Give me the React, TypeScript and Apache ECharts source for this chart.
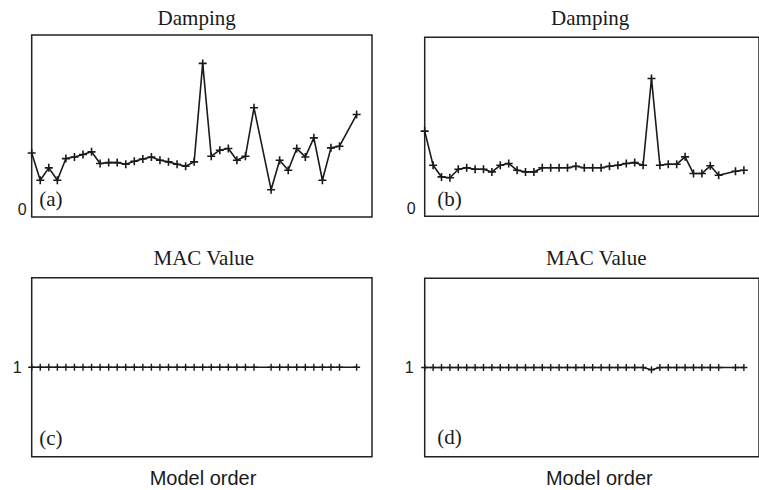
import React, { useEffect, useRef } from "react";
import * as echarts from "echarts";

// Model orders (x positions)
const modelOrders = [1, 2, 3, 4, 5, 6, 7, 8, 9, 10, 11, 12, 13, 14, 15, 16, 17, 18, 19, 20,
  21, 22, 23, 24, 25, 26, 27, 28, 29, 30, 31, 32, 33, 34, 35, 36, 37, 38, 39];

// Damping (a)
const dampingA: (number | null)[] = [3.52, 2.02, 2.7, 2.02, 3.21, 3.3, 3.43, 3.58, 2.94, 2.99,
  2.99, 2.9, 3.06, 3.19, 3.3, 3.12, 3.03, 2.9, 2.79, 3.03,
  8.44, 3.34, 3.67, 3.76, 3.12, 3.34, 6.0, null, 1.5, 3.12,
  2.57, 3.76, 3.3, 4.35, 2.02, 3.8, 3.89, null, 5.63];

// Damping (b)
const dampingB: (number | null)[] = [4.76, 2.85, 2.2, 2.15, 2.63, 2.71, 2.63, 2.63, 2.48, 2.85,
  2.95, 2.57, 2.48, 2.48, 2.71, 2.71, 2.71, 2.71, 2.8, 2.71,
  2.71, 2.71, 2.8, 2.85, 2.95, 3.0, 2.85, 7.7, 2.85, 2.91,
  2.91, 3.32, 2.39, 2.39, 2.82, 2.29, null, 2.52, 2.57];

// MAC value (c)
const macC: (number | null)[] = [1, 1, 1, 1, 1, 1, 1, 1, 1, 1,
  1, 1, 1, 1, 1, 1, 1, 1, 1, 1,
  1, 1, 1, 1, 1, 1, 1, null, 1, 1,
  1, 1, 1, 1, 1, 1, 1, null, 1];

// MAC value (d)
const macD: (number | null)[] = [1, 1, 1, 1, 1, 1, 1, 1, 1, 1,
  1, 1, 1, 1, 1, 1, 1, 1, 1, 1,
  1, 1, 1, 1, 1, 1, 1, 0.975, 1, 1,
  1, 1, 1, 1, 1, 1, null, 1, 1];

const panelTitles = ["Damping", "Damping", "MAC Value", "MAC Value"];
const panelTags = ["(a)", "(b)", "(c)", "(d)"];
const xAxisName = "Model order";

const SERIF = "'Liberation Serif', 'Times New Roman', serif";
const SANS = "'Liberation Sans', Arial, sans-serif";
const INK = "#1a1a1a";
const CROSS = "path://M0.4,0 L0.6,0 L0.6,0.4 L1,0.4 L1,0.6 L0.6,0.6 L0.6,1 L0.4,1 L0.4,0.6 L0,0.6 L0,0.4 L0.4,0.4 Z";

const toData = (vals: (number | null)[]) =>
  modelOrders.map((o, i) => [o, vals[i]]).filter((d) => d[1] !== null);

export default function App() {
  const ref = useRef<HTMLDivElement>(null);
  useEffect(() => {
    if (!ref.current) return;
    const chart = echarts.init(ref.current, null, { renderer: "svg" });
    const grids = [
      { left: 31.7, top: 35, width: 340.3, height: 182 },
      { left: 424.7, top: 37.3, width: 340, height: 179 },
      { left: 31.7, top: 277.7, width: 340.3, height: 179 },
      { left: 424.7, top: 278.3, width: 340, height: 178.4 },
    ].map((g) => ({ ...g, show: true, borderColor: "#222", borderWidth: 1.5, backgroundColor: "transparent" }));

    const xAxes = grids.map((_, i) => ({
      type: "value",
      gridIndex: i,
      min: 1,
      max: 40.8,
      axisLine: { show: false },
      axisTick: { show: false },
      axisLabel: { show: false },
      splitLine: { show: false },
    }));

    const yLabelCommon = { color: INK, fontFamily: SANS, fontSize: 16 };
    const yAxes = [
      {
        gridIndex: 0, min: 0, max: 10, interval: 10,
        axisLabel: { ...yLabelCommon, margin: 5, verticalAlign: "bottom", formatter: (v: number) => (v === 0 ? "0" : "") },
      },
      {
        gridIndex: 1, min: 0, max: 10, interval: 10,
        axisLabel: { ...yLabelCommon, margin: 9, verticalAlign: "bottom", formatter: (v: number) => (v === 0 ? "0" : "") },
      },
      {
        gridIndex: 2, min: 0, max: 2, interval: 1,
        axisLabel: { ...yLabelCommon, margin: 10, verticalAlign: "middle", padding: [0, 0, 8, 0], formatter: (v: number) => (v === 1 ? "1" : "") },
      },
      {
        gridIndex: 3, min: 0, max: 2, interval: 1,
        axisLabel: { ...yLabelCommon, margin: 11, verticalAlign: "middle", padding: [0, 0, 8, 0], formatter: (v: number) => (v === 1 ? "1" : "") },
      },
    ].map((y) => ({
      type: "value",
      ...y,
      axisLine: { show: false },
      axisTick: { show: false },
      splitLine: { show: false },
    }));

    const seriesVals = [dampingA, dampingB, macC, macD];
    const series = seriesVals.map((vals, i) => ({
      type: "line",
      xAxisIndex: i,
      yAxisIndex: i,
      data: toData(vals),
      symbol: CROSS,
      symbolSize: i < 2 ? 8 : 7,
      showAllSymbol: true,
      lineStyle: { color: INK, width: i < 2 ? 1.6 : 1.5 },
      itemStyle: { color: INK },
      silent: true,
    }));

    const titlePos = [
      { x: 196.7, top: 7.8, font: SERIF, size: 21 },
      { x: 590.2, top: 7.3, font: SERIF, size: 21 },
      { x: 203.8, top: 247.8, font: SERIF, size: 21 },
      { x: 596.2, top: 247.8, font: SERIF, size: 21 },
    ];
    const titles: any[] = titlePos.map((p, i) => ({
      text: panelTitles[i],
      left: p.x,
      top: p.top,
      textAlign: "center",
      padding: 0,
      textStyle: { fontFamily: p.font, fontSize: p.size, fontWeight: "normal", color: INK },
    }));
    [203, 599.3].forEach((x) => {
      titles.push({
        text: xAxisName,
        left: x,
        top: 467.5,
        textAlign: "center",
        padding: 0,
        textStyle: { fontFamily: SANS, fontSize: 20, fontWeight: "normal", color: INK },
      });
    });

    const tagPos = [
      { x: 39.3, y: 198.8 },
      { x: 437.3, y: 199 },
      { x: 39.3, y: 438.3 },
      { x: 437.3, y: 436.8 },
    ];
    const graphic = tagPos.map((p, i) => ({
      type: "text",
      x: p.x,
      y: p.y,
      style: {
        text: panelTags[i],
        font: `21px ${SERIF}`,
        fill: INK,
        textAlign: "left",
        textVerticalAlign: "middle",
      },
    }));

    chart.setOption({
      animation: false,
      backgroundColor: "#ffffff",
      title: titles,
      grid: grids,
      xAxis: xAxes,
      yAxis: yAxes,
      series,
      graphic,
    });
    return () => chart.dispose();
  }, []);
  return (
    <div
      ref={ref}
      style={{ position: "fixed", left: 0, top: 0, width: 759, height: 490, background: "#fff" }}
    />
  );
}
